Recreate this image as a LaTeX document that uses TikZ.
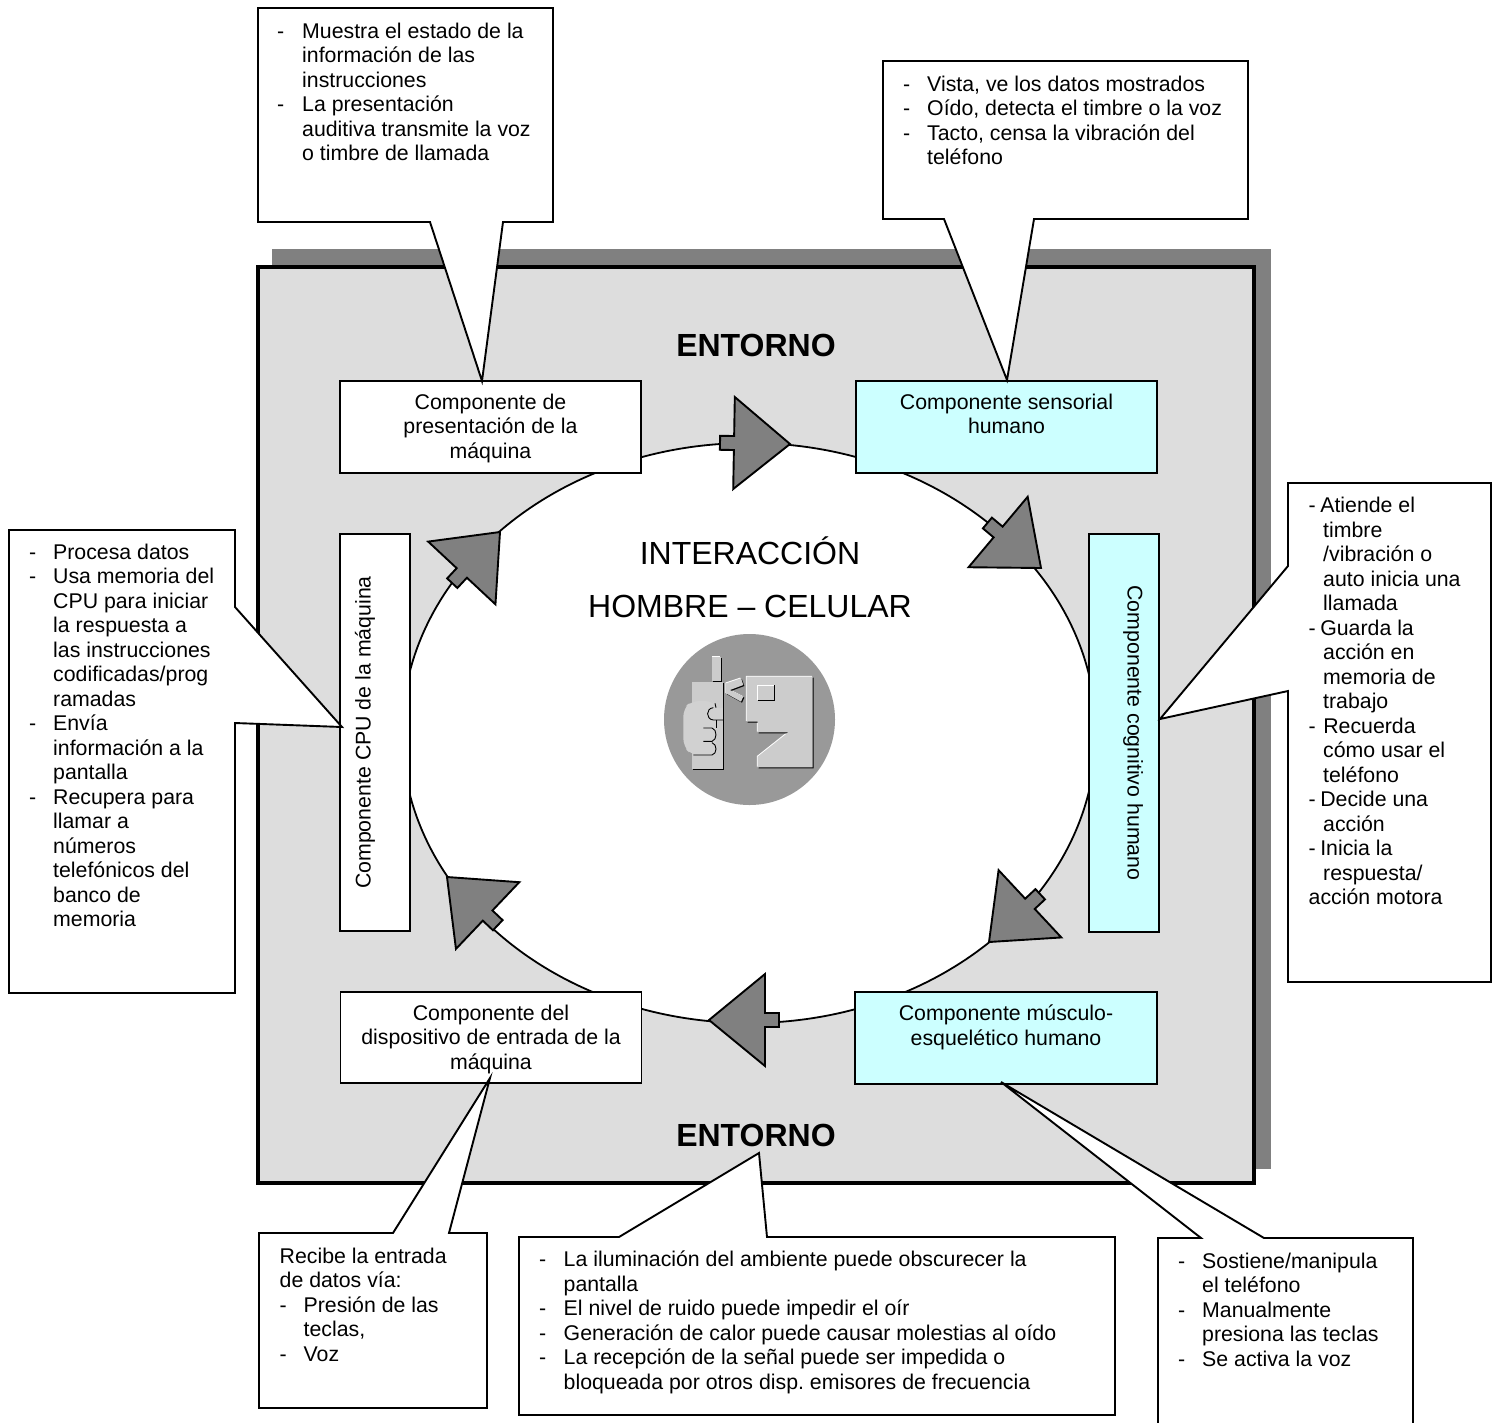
\documentclass[tikz,border=0pt]{standalone}
\usepackage{fontspec}
\setmainfont{Liberation Sans}
\usepackage{xcolor}
\usetikzlibrary{shadows}
\frenchspacing

\definecolor{grisfondo}{HTML}{DDDDDD}
\definecolor{grissombra}{HTML}{808080}
\definecolor{celeste}{HTML}{CCFFFF}
\definecolor{griscirculo}{HTML}{999999}
\definecolor{grispieza}{HTML}{CCCCCC}

\newcommand{\sg}{\hspace{14.5pt}}

\tikzset{
    texto/.style={font=\fontsize{21.3}{24.5}\selectfont},
    titulo/.style={font=\fontsize{32}{37}\selectfont, anchor=base, inner sep=0},
    comp/.style={draw, line width=1.8pt, fill=white, inner sep=0},
    comphum/.style={comp, fill=celeste},
    comptxt/.style={texto, anchor=north, align=center, inner sep=0, yshift=-13.5pt},
    globo/.style={draw, line width=1.9pt, fill=white},
    globotxt/.style={texto, anchor=north west, inner sep=0},
    pieza/.style={fill=grispieza, general shadow={fill=white, shadow xshift=-0.7pt, shadow yshift=0.7pt},
        general shadow={fill=black, shadow xshift=1pt, shadow yshift=-1pt}},
    flecha/.pic={
        \draw[line width=1.9pt, fill=grissombra] (0,0) -- (-56,-46) -- (-56,-7) -- (-70,-7) -- (-70,7)
            -- (-56,7) -- (-56,46) -- cycle;
    }
}

\begin{document}
\begin{tikzpicture}[x=1pt, y=-1pt]
    \useasboundingbox (0,0) rectangle (1498,1422);

    % Environment panel and its shadow
    \fill[grissombra] (272,249) rectangle (1271,1169);
    \draw[line width=4pt, fill=grisfondo] (258,267) rectangle (1254,1183);
    \node[titulo, font=\fontsize{32}{37}\selectfont\bfseries] (entornoa) at (756,356) {ENTORNO};
    \node[titulo, font=\fontsize{32}{37}\selectfont\bfseries] (entornob) at (756,1146) {ENTORNO};

    % Interaction ring
    \draw[line width=1.8pt, fill=white] (749,733) ellipse (347 and 290);
    \node[titulo] (interaccion) at (750,564) {INTERACCIÓN};
    \node[titulo] (hombre) at (750,617) {HOMBRE – CELULAR};

    % Icon in the middle
    \fill[griscirculo] (749.5,719.5) circle (85.5);
    \begin{scope}[shift={(640,640)}, x=0.3333pt, y=-0.3333pt]
        \path[pieza] (217,50) rectangle (243,122);
        \path[pieza] (157,127) rectangle (250,387);
        \path[pieza] (258,130) -- (303,115) -- (310,135) -- (270,150) -- (310,170) -- (303,185) -- (258,160) -- cycle;
        \path[pieza] (320,110) -- (518,110) -- (518,382) -- (353,382) -- (353,350) -- (445,277) -- (353,277)
            -- (353,245) -- (320,245) -- cycle;
        \draw[line width=0.8pt, white, fill=grispieza] (353,180) -- (353,136) -- (404,136);
        \draw[line width=0.9pt] (404,136) -- (404,180) -- (353,180);
        \fill[grispieza!90!white, rounded corners=8pt] (155,183) -- (218,183) -- (228,195) -- (228,345) -- (155,345)
            -- (130,320) -- (130,205) -- cycle;
        \fill[grispieza!90!white] (205,203) -- (250,203) -- (250,240) -- (205,240) -- cycle;
        \draw[line width=0.9pt] (220,203) .. controls (197,205) and (197,238) .. (220,240) -- (250,240);
        \draw[line width=0.9pt] (190,264) -- (216,264) .. controls (232,268) and (232,300) .. (216,304) -- (190,304);
        \draw[line width=0.9pt] (216,308) .. controls (232,312) and (232,342) .. (216,345) -- (160,345);
        \draw[line width=0.9pt] (225,190) -- (228,203);
        \draw[line width=0.9pt] (228,240) -- (228,264);
    \end{scope}

    % Components
    \node[comp, minimum width=301pt, minimum height=92pt] (presentacion) at (490.5,427) {};
    \node[comphum, minimum width=301pt, minimum height=92pt] (sensorial) at (1006.5,427) {};
    \node[comphum, minimum width=70pt, minimum height=398pt] (cognitivo) at (1124,733) {};
    \node[comphum, minimum width=302pt, minimum height=92pt] (muscular) at (1006,1038) {};
    \node[comp, minimum width=301pt, minimum height=91pt] (entrada) at (491,1037.5) {};
    \node[comp, minimum width=70pt, minimum height=397pt] (cpu) at (375,732.5) {};

    \node[comptxt] (presentaciontxt) at (presentacion.north) {Componente de\\presentación de la\\máquina};
    \node[comptxt] (sensorialtxt) at (sensorial.north) {Componente sensorial\\humano};
    \node[comptxt] (musculartxt) at (muscular.north) {Componente músculo-\\esquelético humano};
    \node[comptxt] (entradatxt) at (entrada.north) {Componente del\\dispositivo de entrada de la\\máquina};
    \node[texto, anchor=base, rotate=-90, inner sep=0] (cognitivotxt) at (1127.7,733) {Componente cognitivo humano};
    \node[texto, anchor=base, rotate=90, inner sep=0] (cputxt) at (370.5,732.5) {Componente CPU de la máquina};

    % Arrows round the ring
    \foreach \x/\y/\ang in {790/444/-1, 1041/568/-40, 989/942/-137, 709/1020/-180, 447/877/-223.5, 500/532/47} {
        \pic[rotate=\ang] at (\x,\y) {flecha};
    }

    % Callouts
    \coordinate (puntaa) at (482,381);
    \coordinate (puntab) at (1007,380);
    \coordinate (puntac) at (342,727);
    \coordinate (puntad) at (1160,719);
    \coordinate (puntae) at (490,1078);
    \coordinate (puntaf) at (759,1153);
    \coordinate (puntag) at (1001,1082);

    \draw[globo] (258,8) -- (553,8) -- (553,222) -- (503,222) -- (puntaa) -- (430,222) -- (258,222) -- cycle;
    \draw[globo] (883,61) -- (1248,61) -- (1248,219) -- (1034,219) -- (puntab) -- (944,219) -- (883,219) -- cycle;
    \draw[globo] (9,530) -- (235,530) -- (235,607) -- (puntac) -- (235,723) -- (235,993) -- (9,993) -- cycle;
    \draw[globo] (1288,483) -- (1491,483) -- (1491,982) -- (1288,982) -- (1288,691) -- (puntad) -- (1288,566) -- cycle;
    \draw[globo] (259,1233) -- (393,1233) -- (puntae) -- (449,1233) -- (487,1233) -- (487,1408) -- (259,1408) -- cycle;
    \draw[globo] (519,1237) -- (619,1237) -- (puntaf) -- (767,1237) -- (1115,1237) -- (1115,1415) -- (519,1415) -- cycle;
    \draw[globo] (1158,1238) -- (1201,1238) -- (puntag) -- (1264,1238) -- (1413,1238) -- (1413,1428) -- (1158,1428) -- cycle;

    \node[globotxt] (globoa) at (277,21) {\begin{tabular}{@{}p{25pt}@{}l@{}}
        - & Muestra el estado de la\\
          & información de las\\
          & instrucciones\\
        - & La presentación\\
          & auditiva transmite la voz\\
          & o timbre de llamada
    \end{tabular}};
    \node[globotxt] (globob) at (903,74) {\begin{tabular}{@{}p{24pt}@{}l@{}}
        - & Vista, ve los datos mostrados\\
        - & Oído, detecta el timbre o la voz\\
        - & Tacto, censa la vibración del\\
          & teléfono
    \end{tabular}};
    \node[globotxt] (globoc) at (29,542) {\begin{tabular}{@{}p{24pt}@{}l@{}}
        - & Procesa datos\\
        - & Usa memoria del\\
          & CPU para iniciar\\
          & la respuesta a\\
          & las instrucciones\\
          & codificadas/prog\\
          & ramadas\\
        - & Envía\\
          & información a la\\
          & pantalla\\
        - & Recupera para\\
          & llamar a\\
          & números\\
          & telefónicos del\\
          & banco de\\
          & memoria
    \end{tabular}};
    \node[globotxt] (globod) at (1308.5,495.5) {\begin{tabular}{@{}l@{}}
        -\hspace{4.5pt}Atiende el\\
        \sg timbre\\
        \sg /vibración o\\
        \sg auto inicia una\\
        \sg llamada\\
        -\hspace{4.5pt}Guarda la\\
        \sg acción en\\
        \sg memoria de\\
        \sg trabajo\\
        -\hspace{7.5pt}Recuerda\\
        \sg cómo usar el\\
        \sg teléfono\\
        -\hspace{4.5pt}Decide una\\
        \sg acción\\
        -\hspace{4.5pt}Inicia la\\
        \sg respuesta/\\
        acción motora
    \end{tabular}};
    \node[globotxt] (globoe) at (279.5,1246) {\begin{tabular}{@{}p{24pt}@{}l@{}}
        \multicolumn{2}{@{}l@{}}{Recibe la entrada}\\
        \multicolumn{2}{@{}l@{}}{de datos vía:}\\
        - & Presión de las\\
          & teclas,\\
        - & Voz
    \end{tabular}};
    \node[globotxt] (globof) at (539,1249.5) {\begin{tabular}{@{}p{24.5pt}@{}l@{}}
        - & La iluminación del ambiente puede obscurecer la\\
          & pantalla\\
        - & El nivel de ruido puede impedir el oír\\
        - & Generación de calor puede causar molestias al oído\\
        - & La recepción de la señal puede ser impedida o\\
          & bloqueada por otros disp. emisores de frecuencia
    \end{tabular}};
    \node[globotxt] (globog) at (1178,1251) {\begin{tabular}{@{}p{24pt}@{}l@{}}
        - & Sostiene/manipula\\
          & el teléfono\\
        - & Manualmente\\
          & presiona las teclas\\
        - & Se activa la voz
    \end{tabular}};
\end{tikzpicture}
\end{document}
